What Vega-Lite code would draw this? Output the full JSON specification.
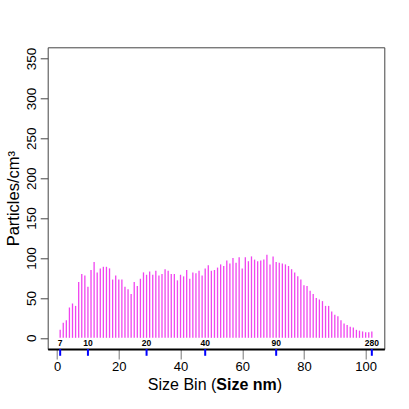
{
  "$schema": "https://vega.github.io/schema/vega-lite/v6.json",
  "width": 336.6,
  "height": 301.7,
  "autosize": "none",
  "padding": {"left": 47.7, "top": 47.3, "right": 24.7, "bottom": 60},
  "background": "white",
  "config": {
    "view": {"stroke": "#444", "strokeWidth": 1},
    "font": "Liberation Sans",
    "axis": {"labelFont": "Liberation Sans", "titleFont": "Liberation Sans", "grid": false}
  },
  "datasets": {
    "bins": [
      {"bin": 1, "count": 10}, {"bin": 2, "count": 19}, {"bin": 3, "count": 22}, {"bin": 4, "count": 38},
      {"bin": 5, "count": 43}, {"bin": 6, "count": 40}, {"bin": 7, "count": 70}, {"bin": 8, "count": 80},
      {"bin": 9, "count": 78}, {"bin": 10, "count": 64}, {"bin": 11, "count": 85}, {"bin": 12, "count": 95},
      {"bin": 13, "count": 82}, {"bin": 14, "count": 87}, {"bin": 15, "count": 89}, {"bin": 16, "count": 89},
      {"bin": 17, "count": 87}, {"bin": 18, "count": 73}, {"bin": 19, "count": 78}, {"bin": 20, "count": 73},
      {"bin": 21, "count": 73}, {"bin": 22, "count": 64}, {"bin": 23, "count": 61}, {"bin": 24, "count": 55},
      {"bin": 25, "count": 70}, {"bin": 26, "count": 65}, {"bin": 27, "count": 74}, {"bin": 28, "count": 82},
      {"bin": 29, "count": 79}, {"bin": 30, "count": 83}, {"bin": 31, "count": 79}, {"bin": 32, "count": 84},
      {"bin": 33, "count": 78}, {"bin": 34, "count": 80}, {"bin": 35, "count": 86}, {"bin": 36, "count": 84},
      {"bin": 37, "count": 80}, {"bin": 38, "count": 80}, {"bin": 39, "count": 72}, {"bin": 40, "count": 79},
      {"bin": 41, "count": 77}, {"bin": 42, "count": 85}, {"bin": 43, "count": 74}, {"bin": 44, "count": 82},
      {"bin": 45, "count": 81}, {"bin": 46, "count": 84}, {"bin": 47, "count": 78}, {"bin": 48, "count": 87},
      {"bin": 49, "count": 91}, {"bin": 50, "count": 84}, {"bin": 51, "count": 85}, {"bin": 52, "count": 88},
      {"bin": 53, "count": 92}, {"bin": 54, "count": 90}, {"bin": 55, "count": 97}, {"bin": 56, "count": 93},
      {"bin": 57, "count": 100}, {"bin": 58, "count": 94}, {"bin": 59, "count": 101}, {"bin": 60, "count": 87},
      {"bin": 61, "count": 101}, {"bin": 62, "count": 96}, {"bin": 63, "count": 102}, {"bin": 64, "count": 98},
      {"bin": 65, "count": 96}, {"bin": 66, "count": 97}, {"bin": 67, "count": 98}, {"bin": 68, "count": 104},
      {"bin": 69, "count": 92}, {"bin": 70, "count": 102}, {"bin": 71, "count": 95}, {"bin": 72, "count": 94},
      {"bin": 73, "count": 93}, {"bin": 74, "count": 92}, {"bin": 75, "count": 90}, {"bin": 76, "count": 86},
      {"bin": 77, "count": 82}, {"bin": 78, "count": 77}, {"bin": 79, "count": 73}, {"bin": 80, "count": 66},
      {"bin": 81, "count": 65}, {"bin": 82, "count": 59}, {"bin": 83, "count": 55}, {"bin": 84, "count": 50},
      {"bin": 85, "count": 48}, {"bin": 86, "count": 46}, {"bin": 87, "count": 40}, {"bin": 88, "count": 40},
      {"bin": 89, "count": 33}, {"bin": 90, "count": 29}, {"bin": 91, "count": 27}, {"bin": 92, "count": 22},
      {"bin": 93, "count": 18}, {"bin": 94, "count": 16}, {"bin": 95, "count": 14}, {"bin": 96, "count": 13},
      {"bin": 97, "count": 10}, {"bin": 98, "count": 9}, {"bin": 99, "count": 8}, {"bin": 100, "count": 7},
      {"bin": 101, "count": 7}, {"bin": 102, "count": 8}
    ],
    "ticks": [
      {"bin": 1, "nm": "7"}, {"bin": 10, "nm": "10"}, {"bin": 29, "nm": "20"},
      {"bin": 48, "nm": "40"}, {"bin": 71, "nm": "90"}, {"bin": 102, "nm": "280"}
    ]
  },
  "layer": [
    {
      "data": {"name": "bins"},
      "mark": {"type": "rule", "color": "#f044f0", "strokeWidth": 1.3},
      "encoding": {
        "x": {
          "field": "bin", "type": "quantitative",
          "scale": {"domain": [-3.04, 106.04], "nice": false, "zero": false},
          "axis": {
            "values": [0, 20, 40, 60, 80, 100], "title": null,
            "domainColor": "#000", "domainWidth": 2,
            "tickColor": "#777", "tickSize": 10, "tickWidth": 1,
            "labelFontSize": 13, "labelColor": "#000", "labelPadding": 1,
            "labelFlush": false, "labelOverlap": false
          }
        },
        "y": {
          "field": "count", "type": "quantitative",
          "scale": {"domain": [-14, 364], "nice": false, "zero": false},
          "axis": {
            "values": [0, 50, 100, 150, 200, 250, 300, 350],
            "title": "Particles/cm³", "titleFontSize": 16.5, "titleFontWeight": "normal",
            "titleColor": "#000", "titlePadding": 3,
            "domain": false, "tickColor": "#444", "tickSize": 7.5,
            "labelFontSize": 13.5, "labelColor": "#000", "labelAngle": -90,
            "labelAlign": "center", "labelBaseline": "alphabetic", "labelPadding": 5,
            "labelFlush": false, "labelOverlap": false
          }
        },
        "y2": {"datum": 0}
      }
    },
    {
      "data": {"name": "ticks"},
      "mark": {"type": "rule", "color": "#0000ff", "strokeWidth": 2},
      "encoding": {
        "x": {"field": "bin", "type": "quantitative"},
        "y": {"datum": -14},
        "y2": {"datum": -22.5}
      }
    },
    {
      "data": {"name": "ticks"},
      "mark": {"type": "text", "fontSize": 8.5, "fontWeight": "bold", "baseline": "alphabetic", "align": "center", "color": "#000"},
      "encoding": {
        "x": {"field": "bin", "type": "quantitative"},
        "y": {"datum": -10.5},
        "text": {"field": "nm"}
      }
    },
    {
      "data": {"values": [{}]},
      "mark": {"type": "text", "text": "Size Bin (", "fontSize": 16, "align": "right", "baseline": "alphabetic", "color": "#000"},
      "encoding": {"x": {"datum": 51.6}, "y": {"datum": -65}}
    },
    {
      "data": {"values": [{}]},
      "mark": {"type": "text", "text": "Size nm", "fontSize": 16, "fontWeight": "bold", "align": "left", "baseline": "alphabetic", "color": "#000"},
      "encoding": {"x": {"datum": 51.6}, "y": {"datum": -65}}
    },
    {
      "data": {"values": [{}]},
      "mark": {"type": "text", "text": ")", "fontSize": 16, "align": "left", "baseline": "alphabetic", "color": "#000"},
      "encoding": {"x": {"datum": 71.2}, "y": {"datum": -65}}
    }
  ]
}
